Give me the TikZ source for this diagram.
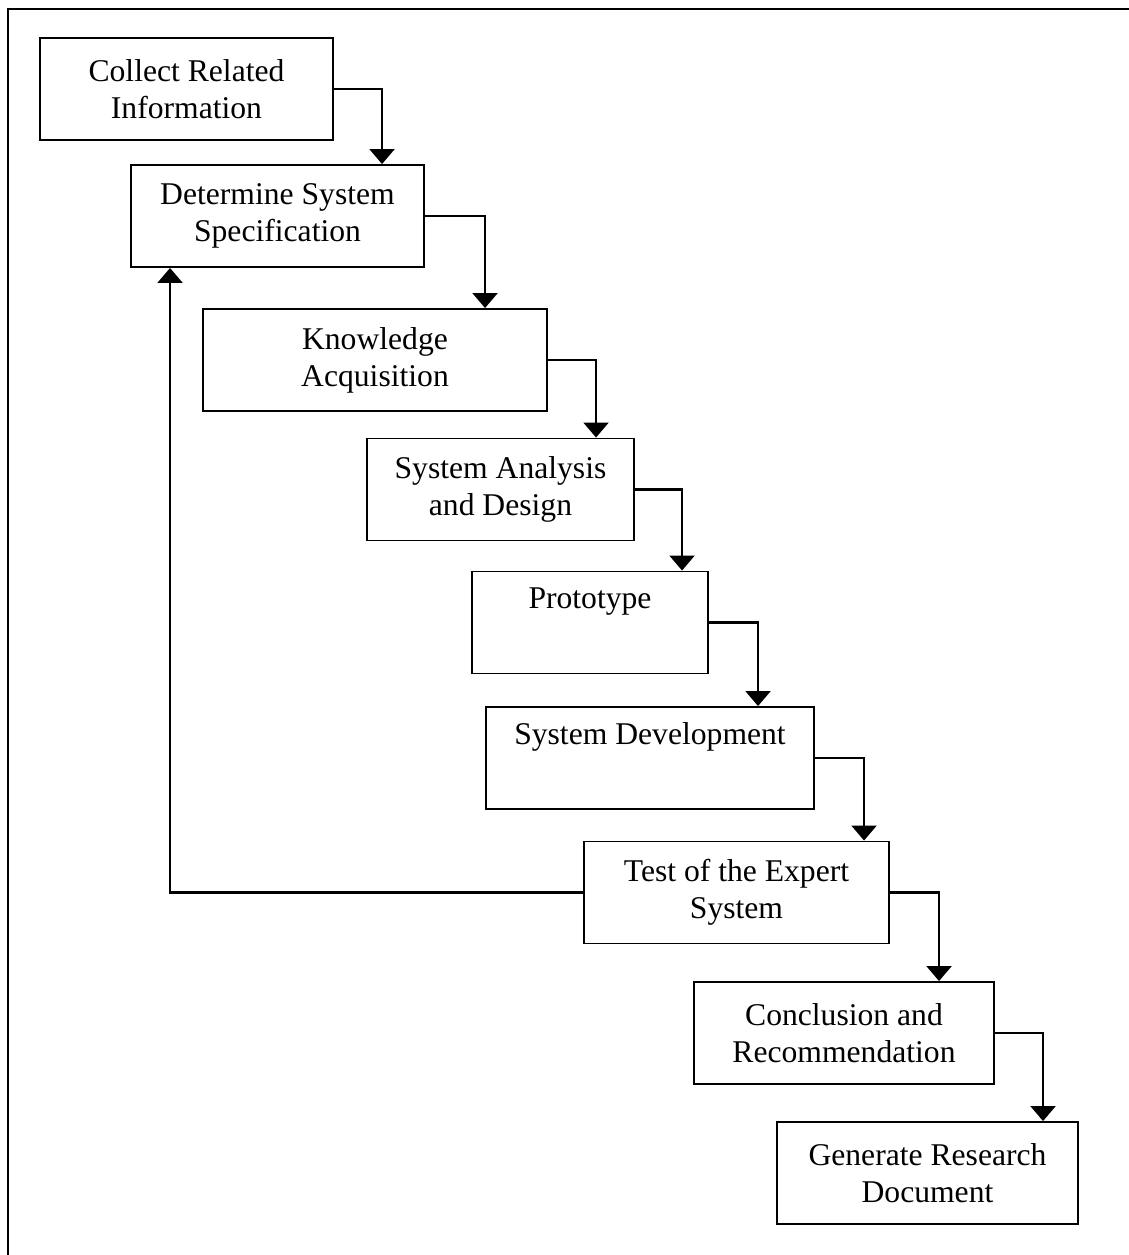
\documentclass[tikz,border=0pt]{standalone}
\usepackage{fontspec}
\setmainfont{Liberation Serif}
\usepackage{tikz}
\usetikzlibrary{arrows.meta}

\begin{document}
\begin{tikzpicture}[
            stage/.style={draw, line width=1.1pt, align=center, inner sep=0pt,
                minimum height=2.04cm, font=\fontsize{18}{21}\selectfont},
            flow/.style={line width=1.3pt, -{Triangle[length=3mm,width=5mm]}}
        ]
        \useasboundingbox (0,0) rectangle (22.58,-25.1);
        \draw[line width=1.4pt] (0.16,-25.3) |- (22.8,-0.18);

        \node[stage, minimum width=5.86cm] (s1) at (3.73,-1.78) {Collect Related\\Information};
        \node[stage, minimum width=5.86cm] (s2) at (5.55,-4.32) {Determine System\\Specification};
        \node[stage, minimum width=6.88cm] (s3) at (7.50,-7.20) {Knowledge\\Acquisition};
        \node[stage, minimum width=5.34cm] (s4) at (10.01,-9.79) {System Analysis\\and Design};
        \node[stage, minimum width=4.72cm] (s5) at (11.80,-12.45) {Prototype\\\strut};
        \node[stage, minimum width=6.56cm] (s6) at (13.00,-15.16) {System Development\\\strut};
        \node[stage, minimum width=6.10cm] (s7) at (14.73,-17.85) {Test of the Expert\\System};
        \node[stage, minimum width=6.00cm] (s8) at (16.88,-20.66) {Conclusion and\\Recommendation};
        \node[stage, minimum width=6.02cm] (s9) at (18.55,-23.46) {Generate Research\\Document};

        \draw[flow] (s1.east) -| ([xshift=5.04cm]s2.north west);
        \draw[flow] (s2.east) -| ([xshift=5.66cm]s3.north west);
        \draw[flow] (s3.east) -| ([xshift=4.60cm]s4.north west);
        \draw[flow] (s4.east) -| ([xshift=4.22cm]s5.north west);
        \draw[flow] (s5.east) -| ([xshift=5.46cm]s6.north west);
        \draw[flow] (s6.east) -| ([xshift=5.62cm]s7.north west);
        \draw[flow] (s7.east) -| ([xshift=4.92cm]s8.north west);
        \draw[flow] (s8.east) -| ([xshift=5.34cm]s9.north west);
        \draw[flow] (s7.west) -| ([xshift=0.80cm]s2.south west);
    \end{tikzpicture}
\end{document}
